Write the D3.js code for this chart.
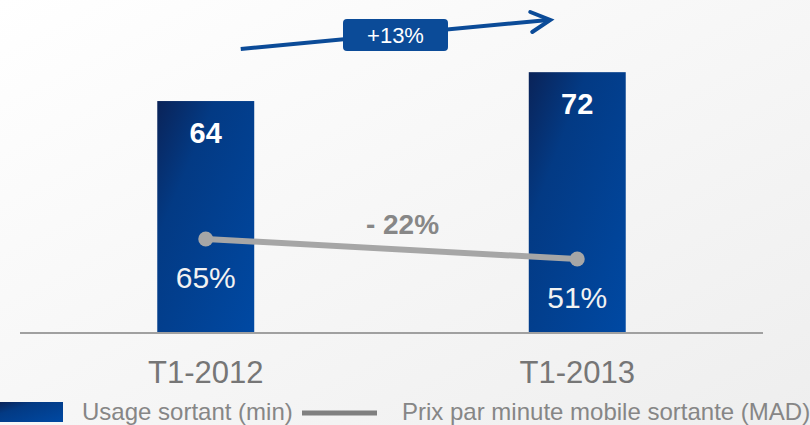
<!DOCTYPE html>
<html>
<head>
<meta charset="utf-8">
<script src="https://cdn.jsdelivr.net/npm/d3@7"></script>
<style>
  html, body { margin: 0; padding: 0; background: #fff; }
  svg { display: block; font-family: Arial, "Liberation Sans", sans-serif; }
</style>
</head>
<body>
<svg id="chart" width="810" height="425"></svg>
<script>
// data
const categories = ['T1-2012', 'T1-2013'];
const usage = [64, 72];            // Usage sortant (min)
const price = [65, 51];            // Prix par minute mobile sortante, shown as %
const priceLabels = ['65%', '51%'];
const usageChange = '+13%';
const priceChange = '- 22%';
const legendLabels = ['Usage sortant (min)', 'Prix par minute mobile sortante (MAD)'];

const svg = d3.select('#chart');
const width = +svg.attr('width');
const height = +svg.attr('height');
const baseline = 332;

const defs = svg.append('defs');
const bg = defs.append('linearGradient').attr('id', 'bg')
    .attr('x1', '0%').attr('y1', '0%').attr('x2', '100%').attr('y2', '100%');
bg.append('stop').attr('offset', '0%').attr('stop-color', '#ffffff');
bg.append('stop').attr('offset', '100%').attr('stop-color', '#eeeeee');

const barGrad = defs.append('linearGradient').attr('id', 'barGrad')
    .attr('x1', '0%').attr('y1', '0%').attr('x2', '100%').attr('y2', '100%');
barGrad.append('stop').attr('offset', '0%').attr('stop-color', '#0a2358');
barGrad.append('stop').attr('offset', '30%').attr('stop-color', '#033a84');
barGrad.append('stop').attr('offset', '100%').attr('stop-color', '#0049a3');

svg.append('rect').attr('width', width).attr('height', height).attr('fill', 'url(#bg)');

const x = d3.scaleBand().domain(categories).range([20, 763])
    .paddingInner(0.739).paddingOuter(0.3695);
const y = d3.scaleLinear().domain([0, 92]).range([baseline, 0]);
const y2 = d3.scaleLinear().domain([0, 232]).range([baseline, 0]);
const cx = d => x(d) + x.bandwidth() / 2;

// bars
svg.selectAll('rect.bar').data(categories).enter().append('rect')
    .attr('class', 'bar')
    .attr('x', d => x(d))
    .attr('y', (d, i) => y(usage[i]))
    .attr('width', x.bandwidth())
    .attr('height', (d, i) => baseline - y(usage[i]))
    .attr('fill', 'url(#barGrad)');

svg.selectAll('text.val').data(categories).enter().append('text')
    .attr('class', 'val')
    .attr('x', d => cx(d))
    .attr('y', (d, i) => y(usage[i]) + 42)
    .attr('text-anchor', 'middle')
    .attr('font-size', 29).attr('font-weight', 'bold')
    .attr('fill', '#ffffff')
    .text((d, i) => usage[i]);

// axis line
svg.append('line')
    .attr('x1', 20).attr('x2', 763)
    .attr('y1', baseline + 1).attr('y2', baseline + 1)
    .attr('stroke', '#a0a0a0').attr('stroke-width', 2);

// category labels
svg.selectAll('text.cat').data(categories).enter().append('text')
    .attr('class', 'cat')
    .attr('x', d => cx(d))
    .attr('y', 383)
    .attr('text-anchor', 'middle')
    .attr('font-size', 31)
    .attr('fill', '#767676')
    .text(d => d);

// price line
const line = d3.line().x((d, i) => cx(categories[i])).y(d => y2(d));
svg.append('path').datum(price)
    .attr('d', line)
    .attr('fill', 'none')
    .attr('stroke', '#a6a6a6').attr('stroke-width', 6);

svg.selectAll('circle.pt').data(price).enter().append('circle')
    .attr('class', 'pt')
    .attr('cx', (d, i) => cx(categories[i]))
    .attr('cy', d => y2(d))
    .attr('r', 7.5)
    .attr('fill', '#a6a6a6');

svg.selectAll('text.pct').data(price).enter().append('text')
    .attr('class', 'pct')
    .attr('x', (d, i) => cx(categories[i]))
    .attr('y', d => y2(d) + 49)
    .attr('text-anchor', 'middle')
    .attr('font-size', 30)
    .attr('fill', '#f2f2f2')
    .text((d, i) => priceLabels[i]);

const midX = (cx(categories[0]) + cx(categories[1])) / 2;
const midY = (y2(price[0]) + y2(price[1])) / 2;
svg.append('text')
    .attr('x', midX + 11).attr('y', midY - 15)
    .attr('text-anchor', 'middle')
    .attr('font-size', 28).attr('font-weight', 'bold')
    .attr('fill', '#878787')
    .text(priceChange);

// growth arrow
const blue = '#0b4b98';
const ax1 = cx(categories[0]) + 35, ay1 = 49;
const ax2 = cx(categories[1]) - 27, ay2 = 20;
svg.append('line')
    .attr('x1', ax1).attr('y1', ay1).attr('x2', ax2 - 2).attr('y2', ay2)
    .attr('stroke', blue).attr('stroke-width', 4);
svg.append('path')
    .attr('d', `M${ax2 - 20},${ay2 - 8} L${ax2},${ay2} L${ax2 - 18},${ay2 + 12}`)
    .attr('fill', 'none').attr('stroke', blue).attr('stroke-width', 4)
    .attr('stroke-linecap', 'round').attr('stroke-linejoin', 'miter');

const boxCx = 395.5;
svg.append('rect')
    .attr('x', boxCx - 52.5).attr('y', 19)
    .attr('width', 105).attr('height', 32)
    .attr('rx', 4)
    .attr('fill', blue);
svg.append('text')
    .attr('x', boxCx).attr('y', 43)
    .attr('text-anchor', 'middle')
    .attr('font-size', 22)
    .attr('fill', '#ffffff')
    .text(usageChange);

// legend
const legend = svg.append('g');
legend.append('rect')
    .attr('x', 0).attr('y', 402).attr('width', 63).attr('height', 20)
    .attr('fill', 'url(#barGrad)');
legend.append('text')
    .attr('x', 82).attr('y', 420)
    .attr('font-size', 24).attr('fill', '#868686')
    .text(legendLabels[0]);
legend.append('line')
    .attr('x1', 302).attr('x2', 377).attr('y1', 413).attr('y2', 413)
    .attr('stroke', '#808080').attr('stroke-width', 5);
legend.append('text')
    .attr('x', 402).attr('y', 420)
    .attr('font-size', 24).attr('fill', '#868686')
    .text(legendLabels[1]);
</script>
</body>
</html>
